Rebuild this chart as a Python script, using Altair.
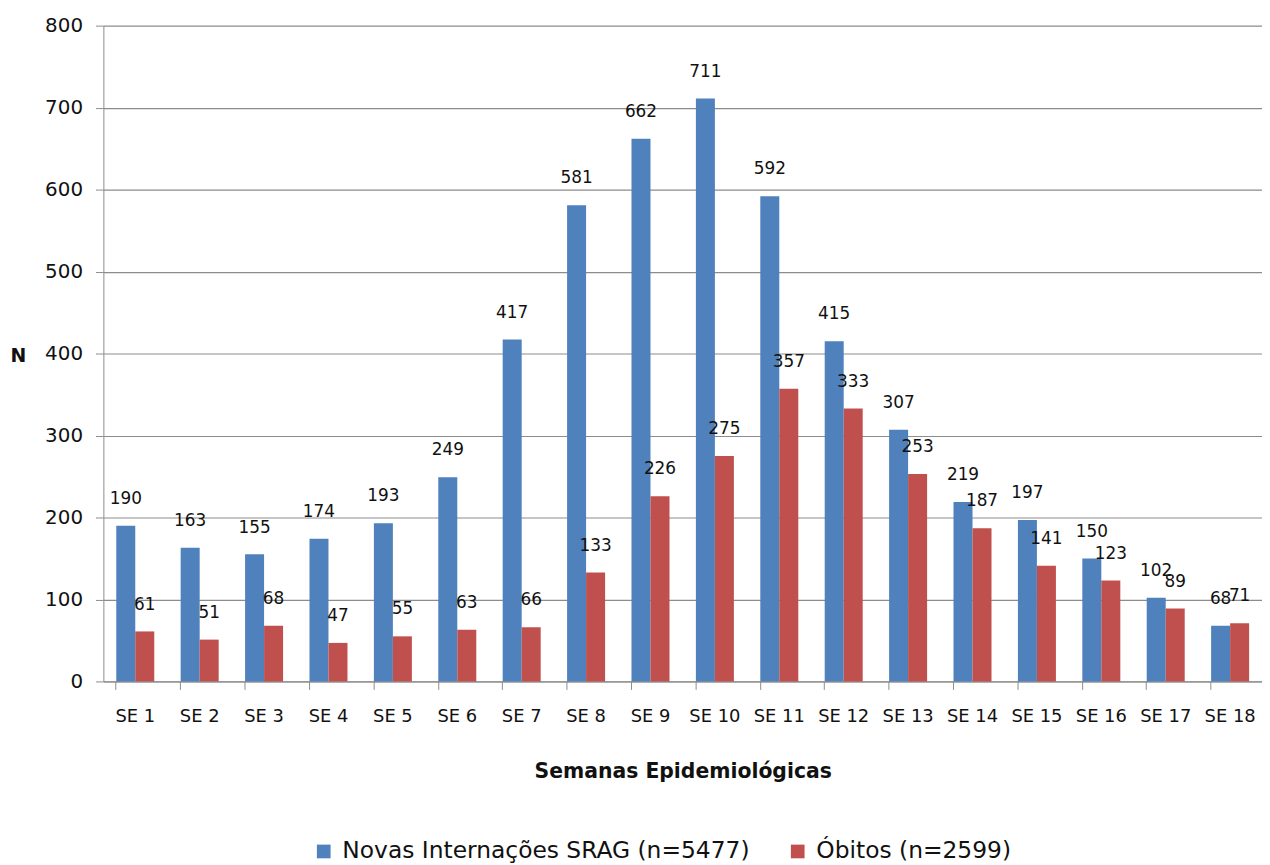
import altair as alt
import pandas as pd

weeks = [f"SE {i}" for i in range(1, 19)]
internacoes = [190, 163, 155, 174, 193, 249, 417, 581, 662, 711, 592, 415, 307, 219, 197, 150, 102, 68]
obitos = [61, 51, 68, 47, 55, 63, 66, 133, 226, 275, 357, 333, 253, 187, 141, 123, 89, 71]
series_names = ["Novas Internações SRAG (n=5477)", "Óbitos (n=2599)"]
colors = ["#4F81BD", "#C0504D"]

rows = []
for w, a, b in zip(weeks, internacoes, obitos):
    rows.append({"week": w, "series": series_names[0], "value": a})
    rows.append({"week": w, "series": series_names[1], "value": b})
df = pd.DataFrame(rows)

FONT = "DejaVu Sans"

x = alt.X("week:N", sort=weeks, title="Semanas Epidemiológicas",
          scale=alt.Scale(paddingInner=0.41, paddingOuter=0.2),
          axis=alt.Axis(labelAngle=0, bandPosition=0, labelFontSize=18, labelPadding=18,
                        titleFontSize=20.5, titleFontWeight="bold", titlePadding=37,
                        tickSize=8, domainColor="#8c8c8c", tickColor="#8c8c8c",
                        labelColor="#111111", titleColor="#111111", grid=False))
y = alt.Y("value:Q", title="N",
          scale=alt.Scale(domain=[0, 800]),
          axis=alt.Axis(values=list(range(0, 801, 100)), labelFontSize=20, labelPadding=13,
                        tickSize=8, domainColor="#8c8c8c", tickColor="#8c8c8c",
                        gridColor="#8c8c8c", gridWidth=1.2,
                        labelColor="#111111", titleColor="#111111",
                        titleAngle=0, titleFontSize=19, titleFontWeight="bold",
                        titleX=-86, titleY=342))
xo = alt.XOffset("series:N", sort=series_names)

bars = alt.Chart(df).mark_bar().encode(
    x=x, y=y, xOffset=xo,
    color=alt.Color("series:N", sort=series_names,
                    scale=alt.Scale(domain=series_names, range=colors),
                    legend=alt.Legend(title=None, orient="none", direction="horizontal",
                                      legendX=210, legendY=819, labelFontSize=23.5,
                                      symbolType="square", symbolSize=190,
                                      symbolStrokeWidth=0, columnPadding=36,
                                      labelOffset=7,
                                      labelColor="#111111", labelLimit=600)),
)
labels = alt.Chart(df).mark_text(baseline="alphabetic", dy=-22, fontSize=17,
                                 font=FONT, color="#111111").encode(
    x=x, y=y, xOffset=xo, text="value:Q")

chart = (bars + labels).properties(
    width=1166, height=660,
    autosize=alt.AutoSizeParams(type="none"),
    padding={"left": 96, "top": 15, "right": 0, "bottom": 180},
).configure(font=FONT).configure_view(stroke=None)

chart.save("out.html", embed_options={"renderer": "svg", "actions": False})
